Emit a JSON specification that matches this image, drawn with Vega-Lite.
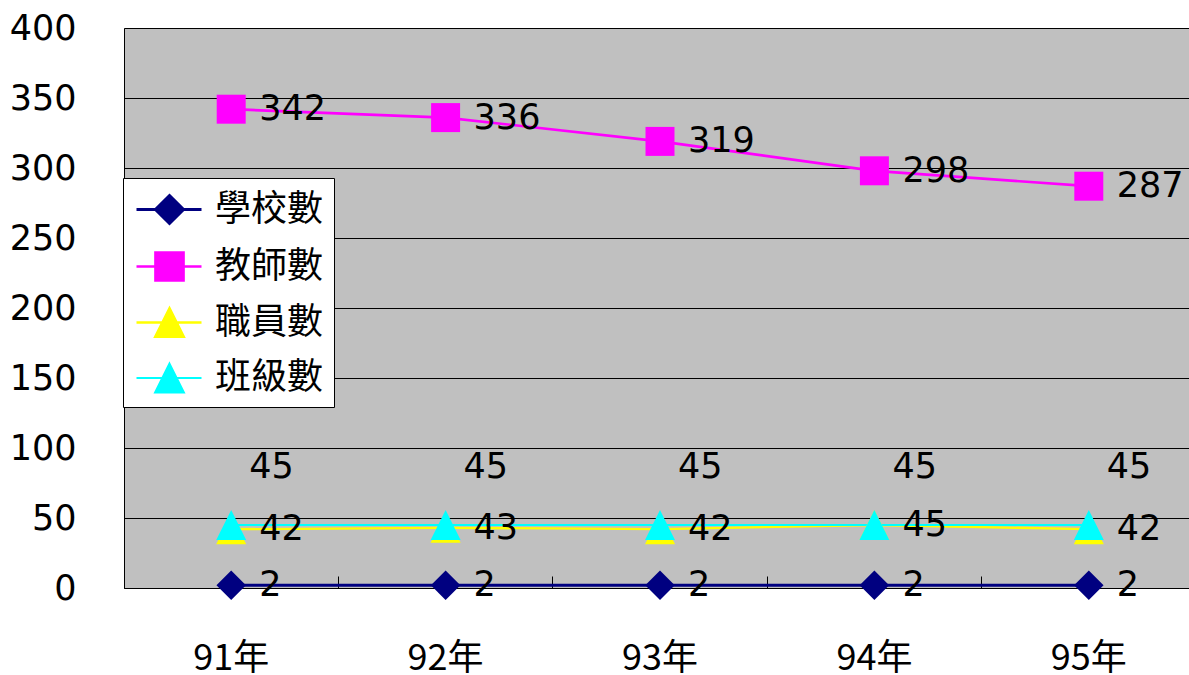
{
  "$schema": "https://vega.github.io/schema/vega-lite/v6.json",
  "autosize": "none",
  "width": 1065,
  "height": 560,
  "padding": {"left": 124, "top": 28, "right": 0, "bottom": 87},
  "background": "white",
  "config": {
    "view": {"fill": "#C0C0C0", "stroke": null},
    "font": "Noto Sans CJK TC"
  },
  "data": {
    "values": [
      {"year": "91年", "series": "學校數", "value": 2},
      {"year": "92年", "series": "學校數", "value": 2},
      {"year": "93年", "series": "學校數", "value": 2},
      {"year": "94年", "series": "學校數", "value": 2},
      {"year": "95年", "series": "學校數", "value": 2},
      {"year": "91年", "series": "教師數", "value": 342},
      {"year": "92年", "series": "教師數", "value": 336},
      {"year": "93年", "series": "教師數", "value": 319},
      {"year": "94年", "series": "教師數", "value": 298},
      {"year": "95年", "series": "教師數", "value": 287},
      {"year": "91年", "series": "職員數", "value": 42},
      {"year": "92年", "series": "職員數", "value": 43},
      {"year": "93年", "series": "職員數", "value": 42},
      {"year": "94年", "series": "職員數", "value": 45},
      {"year": "95年", "series": "職員數", "value": 42},
      {"year": "91年", "series": "班級數", "value": 45},
      {"year": "92年", "series": "班級數", "value": 45},
      {"year": "93年", "series": "班級數", "value": 45},
      {"year": "94年", "series": "班級數", "value": 45},
      {"year": "95年", "series": "班級數", "value": 45}
    ]
  },
  "encoding": {
    "x": {
      "field": "year", "type": "nominal", "title": null,
      "scale": {"type": "band", "range": [0, 1072], "paddingInner": 0, "paddingOuter": 0},
      "axis": {
        "labelAngle": 0, "labelFont": "Noto Sans CJK TC", "labelFontSize": 36, "labelColor": "black",
        "domainColor": "black", "domainWidth": 1, "tickColor": "black", "ticks": true, "tickSize": -12,
        "bandPosition": 0, "labelPadding": 65, "grid": false
      }
    },
    "y": {
      "field": "value", "type": "quantitative", "title": null,
      "scale": {"domain": [0, 400], "nice": false},
      "axis": {
        "values": [0, 50, 100, 150, 200, 250, 300, 350, 400],
        "labelFont": "DejaVu Sans", "labelFontSize": 35, "labelColor": "black",
        "labelPadding": 48, "ticks": false, "domainColor": "black",
        "grid": true, "gridColor": "black", "gridOpacity": 1, "gridWidth": 1
      }
    },
    "color": {
      "field": "series", "type": "nominal",
      "scale": {"domain": ["學校數", "教師數", "職員數", "班級數"], "range": ["#000080", "#FF00FF", "#FFFF00", "#00FFFF"]},
      "legend": {
        "title": null, "orient": "none", "legendX": -1, "legendY": 150,
        "fillColor": "white", "strokeColor": "black", "padding": 10,
        "labelFont": "Noto Sans CJK TC", "labelFontSize": 36, "labelColor": "black",
        "labelOffset": 39, "rowPadding": 15, "symbolSize": 1600,
        "encode": {
          "symbols": {
            "update": {
              "shape": {"signal": "datum.value === '學校數' ? 'M-0.9,0H2.35M0.75,-0.7L1.45,0L0.75,0.7L0.05,0Z' : datum.value === '教師數' ? 'M-0.9,0H2.35M0.05,-0.7H1.45V0.7H0.05Z' : 'M-0.9,0H2.35M0.75,-0.72L1.47,0.72H0.03Z'"},
              "size": {"value": 1600},
              "strokeWidth": {"value": 2},
              "fill": {"scale": "color", "field": "value"},
              "stroke": {"scale": "color", "field": "value"},
              "opacity": {"value": 1},
              "fillOpacity": {"value": 1}
            }
          }
        }
      }
    }
  },
  "layer": [
    {
      "mark": {"type": "line"},
      "encoding": {
        "strokeWidth": {
          "field": "series", "type": "nominal",
          "scale": {"domain": ["學校數", "教師數", "職員數", "班級數"], "range": [3, 2, 3, 3]},
          "legend": null
        }
      }
    },
    {
      "transform": [{"filter": "datum.series === '學校數'"}],
      "mark": {"type": "point", "filled": true, "opacity": 1, "size": 870, "shape": "diamond"}
    },
    {
      "transform": [{"filter": "datum.series === '教師數'"}],
      "mark": {"type": "point", "filled": true, "opacity": 1, "size": 840, "shape": "square"}
    },
    {
      "transform": [{"filter": "datum.series === '職員數' || datum.series === '班級數'"}],
      "mark": {"type": "point", "filled": true, "opacity": 1, "size": 900, "shape": "M0,-1L1,1L-1,1Z"}
    },
    {
      "transform": [{"filter": "datum.series !== '班級數'"}],
      "mark": {"type": "text", "align": "left", "baseline": "middle", "dx": 28, "font": "DejaVu Sans", "fontSize": 35},
      "encoding": {"text": {"field": "value", "type": "quantitative"}, "color": {"value": "black"}}
    },
    {
      "transform": [{"filter": "datum.series === '班級數'"}],
      "mark": {"type": "text", "align": "left", "baseline": "middle", "dx": 18, "dy": -58, "font": "DejaVu Sans", "fontSize": 35},
      "encoding": {"text": {"field": "value", "type": "quantitative"}, "color": {"value": "black"}}
    }
  ]
}
